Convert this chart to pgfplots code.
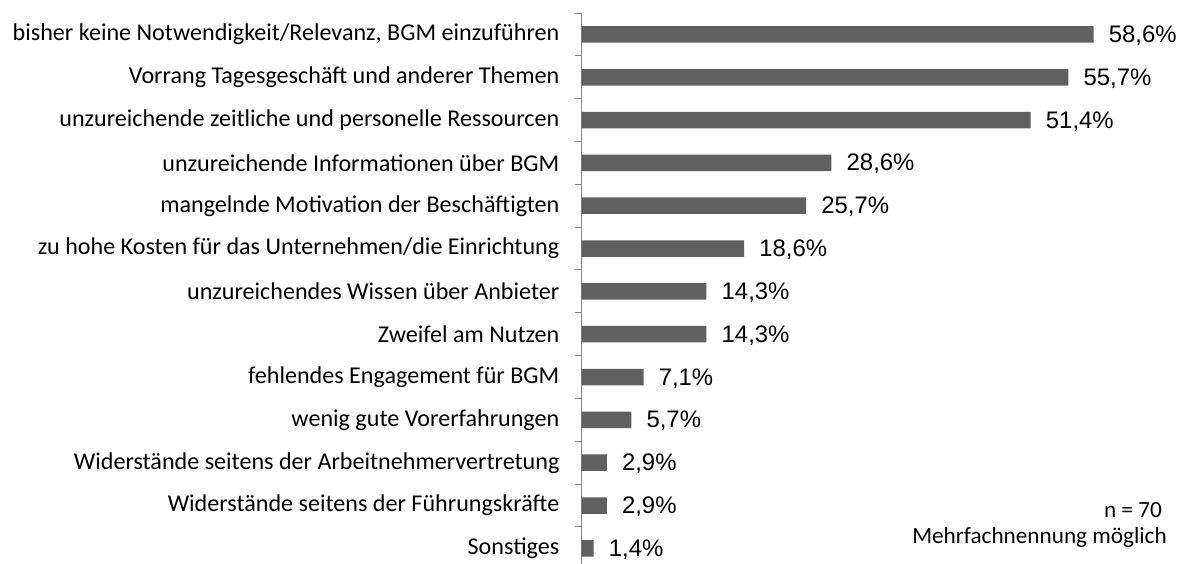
\documentclass[border=0pt]{standalone}
\usepackage{pgfplots}
\pgfplotsset{compat=1.18}
\usepackage{fontspec}
\setmainfont{Carlito}
\newfontfamily\arial{Liberation Sans}
\definecolor{barcol}{RGB}{96,96,96}
\definecolor{axcol}{RGB}{134,134,134}
\begin{document}
\begin{tikzpicture}
\path[use as bounding box] (0,0) rectangle (1188bp,-564bp);
\begin{axis}[
  at={(581.5bp,-13bp)}, anchor=north west,
  scale only axis, width=524.4bp, height=556.8bp,
  xmin=0, xmax=60, ymin=0.5, ymax=13.5, y dir=reverse,
  xbar, bar width=16.5bp, bar shift=0pt,
  hide x axis, axis y line*=left,
  y axis line style={draw=axcol, line width=1bp},
  ytick={1,...,13},
  yticklabels={{bisher keine Notwendigkeit/Relevanz, BGM einzuführen},
    {Vorrang Tagesgeschäft und anderer Themen},
    {unzureichende zeitliche und personelle Ressourcen},
    {unzureichende Informationen über BGM},
    {mangelnde Motivation der Beschäftigten},
    {zu hohe Kosten für das Unternehmen/die Einrichtung},
    {unzureichendes Wissen über Anbieter\hspace{5bp}},
    {Zweifel am Nutzen\hspace{5bp}},
    {fehlendes Engagement für BGM},
    {wenig gute Vorerfahrungen\hspace{5bp}},
    {Widerstände seitens der Arbeitnehmervertretung},
    {Widerstände seitens der Führungskräfte},
    {Sonstiges}},
  major tick length=0pt,
  minor ytick={0.5,1.5,...,13.5},
  minor tick length=7bp, tick align=outside,
  minor tick style={draw=axcol, line width=1bp},
  yticklabel style={font=\fontsize{24.2}{24.2}\selectfont, anchor=east, inner sep=0pt, xshift=-22bp},
  clip=false,
  /pgf/number format/assume math mode=true,
  nodes near coords={\pgfmathprintnumber[fixed, fixed zerofill, precision=1, use comma, assume math mode=true]{\pgfplotspointmeta}\%},
  point meta=x,
  nodes near coords style={font=\arial\fontsize{24}{24}\selectfont, anchor=base west, inner sep=0pt, xshift=15bp, yshift=-8bp},
]
\addplot[fill=barcol, draw=none] coordinates {
(58.6,1) (55.7,2) (51.4,3) (28.6,4) (25.7,5) (18.6,6) (14.3,7)
(14.3,8) (7.1,9) (5.7,10) (2.9,11) (2.9,12) (1.4,13)};
\end{axis}
\node[anchor=base east, inner sep=0pt, font=\fontsize{23.3}{23.3}\selectfont] at (1162bp,-517bp) {n = 70};
\node[anchor=base east, inner sep=0pt, font=\fontsize{23.3}{23.3}\selectfont] at (1167bp,-543bp) {Mehrfachnennung möglich};
\end{tikzpicture}
\end{document}
